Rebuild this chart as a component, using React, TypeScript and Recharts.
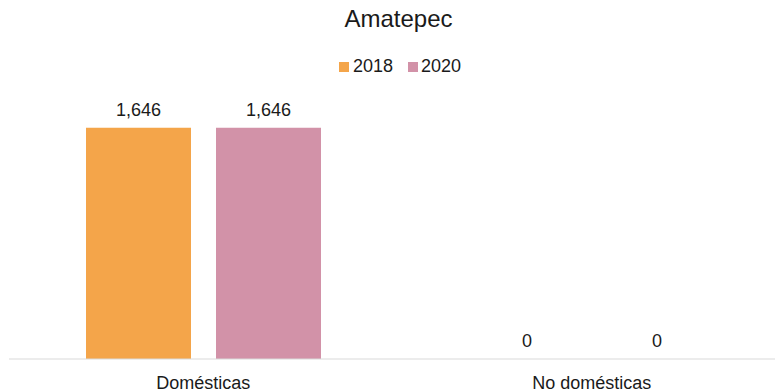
import { BarChart, Bar, XAxis, YAxis, LabelList } from 'recharts';

const categories = ['Domésticas', 'No domésticas'];
const values2018 = [1646, 0];
const values2020 = [1646, 0];

const data = categories.map((name, i) => ({
  name,
  y2018: values2018[i],
  y2020: values2020[i],
}));

const ORANGE = '#F4A54A';
const PINK = '#D292A8';
const FONT = '"Liberation Sans", Arial, sans-serif';

// zero bars get a hair-thin height so their labels still render
const tinyForZero = (v: number) => (v === 0 ? 0.01 : 0);

function ValueLabel(props: any) {
  const { x, y, width, value } = props;
  if (x == null || y == null) return null;
  return (
    <text
      x={Number(x) + Number(width) / 2}
      y={Number(y) - 12}
      textAnchor="middle"
      fontSize={18}
      fill="#1a1a1a"
      fontFamily={FONT}
    >
      {Number(value).toLocaleString('en-US')}
    </text>
  );
}

export default function App() {
  return (
    <div style={{ position: 'absolute', left: 0, top: 0, width: 775, height: 392, overflow: 'hidden', fontFamily: FONT, background: '#fff' }}>
      <div style={{ position: 'absolute', top: 5, left: 0, width: 797, textAlign: 'center', fontSize: 24, color: '#1a1a1a' }}>
        Amatepec
      </div>
      <div style={{ position: 'absolute', top: 56, left: 339, display: 'flex', alignItems: 'center', fontSize: 18, color: '#1a1a1a' }}>
        <span style={{ width: 10, height: 10, background: ORANGE, marginRight: 4 }} />
        <span style={{ marginRight: 15 }}>2018</span>
        <span style={{ width: 10, height: 10, background: PINK, marginRight: 3 }} />
        <span>2020</span>
      </div>
      <BarChart
        width={790}
        height={392}
        data={data}
        margin={{ top: 78, right: 4, left: 9, bottom: 0 }}
        barGap={25}
        barCategoryGap={77}
      >
        <XAxis
          dataKey="name"
          axisLine={{ stroke: '#d9d9d9' }}
          tickLine={false}
          tick={{ fontSize: 18, fill: '#1a1a1a', fontFamily: FONT }}
          tickMargin={11}
          height={33}
        />
        <YAxis hide domain={[0, 2000]} />
        <Bar dataKey="y2018" fill={ORANGE} minPointSize={tinyForZero} isAnimationActive={false}>
          <LabelList dataKey="y2018" content={ValueLabel} />
        </Bar>
        <Bar dataKey="y2020" fill={PINK} minPointSize={tinyForZero} isAnimationActive={false}>
          <LabelList dataKey="y2020" content={ValueLabel} />
        </Bar>
      </BarChart>
    </div>
  );
}
